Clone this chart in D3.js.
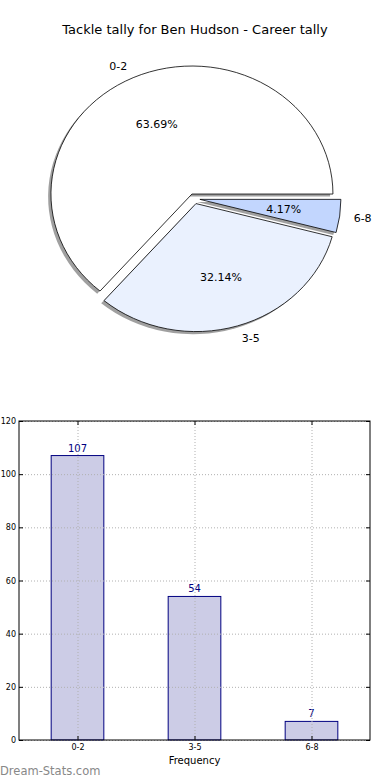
<!DOCTYPE html>
<html>
<head>
<meta charset="utf-8">
<script src="https://cdn.jsdelivr.net/npm/d3@7"></script>
<style>
  body { margin: 0; background: #fff; }
  svg { display: block; font-family: "DejaVu Sans", sans-serif; }
</style>
</head>
<body>
<script>
// chart data
var categories = ["0-2", "3-5", "6-8"];
var counts = [107, 54, 7];
var sliceColors = ["#ffffff", "#eaf1fe", "#c2d6fe"];
var yTicks = [0, 20, 40, 60, 80, 100, 120];
var title = "Tackle tally for Ben Hudson - Career tally";

var svg = d3.select("body").append("svg")
    .attr("width", 390)
    .attr("height", 780);

// title
svg.append("text")
    .attr("x", 195)
    .attr("y", 34)
    .attr("text-anchor", "middle")
    .style("font-size", "13px")
    .text(title);

// ---- pie (matplotlib style, elliptical, exploded, with shadow) ----
var cx = 194.3, cy = 198.7, rx = 141, ry = 128, explode = 0.04;
var total = d3.sum(counts);

var pie = d3.pie()
    .sort(null)
    .startAngle(Math.PI / 2)
    .endAngle(Math.PI / 2 - 2 * Math.PI);

var arc = d3.arc().innerRadius(0).outerRadius(1);

var slices = pie(counts).map(function(d, i) {
  var mid = (d.startAngle + d.endAngle) / 2;
  d.ox = Math.sin(mid) * explode;
  d.oy = -Math.cos(mid) * explode;
  d.mid = mid;
  d.i = i;
  return d;
});

var pieG = svg.append("g")
    .attr("transform", "translate(" + cx + "," + cy + ") scale(" + rx + "," + ry + ")");

// shadows
pieG.selectAll("path.shadow")
    .data(slices)
  .enter().append("path")
    .attr("class", "shadow")
    .attr("transform", function(d) { return "translate(" + (d.ox - 0.02) + "," + (d.oy + 0.02) + ")"; })
    .attr("d", arc)
    .attr("fill", "#808080")
    .attr("fill-opacity", 0.75);

// wedges
pieG.selectAll("path.wedge")
    .data(slices)
  .enter().append("path")
    .attr("class", "wedge")
    .attr("transform", function(d) { return "translate(" + d.ox + "," + d.oy + ")"; })
    .attr("d", arc)
    .attr("fill", function(d) { return sliceColors[d.i]; })
    .attr("stroke", "#000")
    .attr("stroke-width", 0.8)
    .attr("vector-effect", "non-scaling-stroke");

// category labels at 1.1 r
svg.selectAll("text.plabel")
    .data(slices)
  .enter().append("text")
    .attr("class", "plabel")
    .attr("x", function(d) { return cx + (d.ox + 1.1 * Math.sin(d.mid)) * rx; })
    .attr("y", function(d) { return cy + (d.oy - 1.1 * Math.cos(d.mid)) * ry; })
    .attr("dy", "0.35em")
    .attr("text-anchor", function(d) { return Math.sin(d.mid) > 0 ? "start" : "end"; })
    .style("font-size", "11px")
    .text(function(d) { return categories[d.i]; });

// percentage labels at 0.6 r
svg.selectAll("text.pct")
    .data(slices)
  .enter().append("text")
    .attr("class", "pct")
    .attr("x", function(d) { return cx + (d.ox + 0.6 * Math.sin(d.mid)) * rx; })
    .attr("y", function(d) { return cy + (d.oy - 0.6 * Math.cos(d.mid)) * ry; })
    .attr("dy", "0.35em")
    .attr("text-anchor", "middle")
    .style("font-size", "11px")
    .text(function(d) { return (d.value / total * 100).toFixed(2) + "%"; });

// ---- bar chart ----
var margin = {top: 421, left: 19, right: 20, bottom: 40};
var width = 390 - margin.left - margin.right,
    height = 780 - margin.top - margin.bottom;

var x = d3.scalePoint().domain(categories).range([0, width]).padding(0.5);
var y = d3.scaleLinear().domain([0, 120]).range([height, 0]);
var barW = x.step() * 0.45;

var g = svg.append("g")
    .attr("transform", "translate(" + margin.left + "," + margin.top + ")");

// bars
g.selectAll("rect.bar")
    .data(counts)
  .enter().append("rect")
    .attr("class", "bar")
    .attr("x", function(d, i) { return x(categories[i]) - barW / 2; })
    .attr("y", function(d) { return y(d); })
    .attr("width", barW)
    .attr("height", function(d) { return height - y(d); })
    .attr("fill", "#cccce6")
    .attr("stroke", "#000080")
    .attr("stroke-width", 1);

// value labels
g.selectAll("text.val")
    .data(counts)
  .enter().append("text")
    .attr("class", "val")
    .attr("x", function(d, i) { return x(categories[i]); })
    .attr("y", function(d) { return y(d) - 4; })
    .attr("text-anchor", "middle")
    .attr("fill", "#000080")
    .style("font-size", "10px")
    .text(function(d) { return d; });

// grid (drawn over bars)
g.selectAll("line.hgrid")
    .data(yTicks)
  .enter().append("line")
    .attr("class", "hgrid")
    .attr("x1", 0).attr("x2", width)
    .attr("y1", function(d) { return y(d) + 0.5; })
    .attr("y2", function(d) { return y(d) + 0.5; })
    .attr("stroke", "#b0b0b0")
    .attr("stroke-dasharray", "1,2");

g.selectAll("line.vgrid")
    .data(categories)
  .enter().append("line")
    .attr("class", "vgrid")
    .attr("x1", function(d) { return x(d) + 0.5; })
    .attr("x2", function(d) { return x(d) + 0.5; })
    .attr("y1", 0).attr("y2", height)
    .attr("stroke", "#b0b0b0")
    .attr("stroke-dasharray", "1,2");

// axes with inside ticks
g.append("g")
    .call(d3.axisLeft(y).tickValues(yTicks).tickSize(-4).tickPadding(3));
g.append("g")
    .attr("transform", "translate(" + width + ",0)")
    .call(d3.axisRight(y).tickValues(yTicks).tickSize(-4).tickFormat(""));
g.append("g")
    .attr("transform", "translate(0," + height + ")")
    .call(d3.axisBottom(x).tickSize(-4).tickPadding(4));
g.append("g")
    .call(d3.axisTop(x).tickSize(-4).tickFormat(""));

g.selectAll(".domain").remove();
g.selectAll(".tick text").style("font-size", "8px").style("font-family", "DejaVu Sans, sans-serif");

// frame
g.append("rect")
    .attr("width", width)
    .attr("height", height)
    .attr("fill", "none")
    .attr("stroke", "#000")
    .attr("stroke-width", 1);

// x label
g.append("text")
    .attr("x", width / 2)
    .attr("y", height + 24)
    .attr("text-anchor", "middle")
    .style("font-size", "10px")
    .text("Frequency");

// watermark
svg.append("text")
    .attr("x", 0)
    .attr("y", 775)
    .attr("fill", "#888")
    .style("font-size", "11.5px")
    .text("Dream-Stats.com");
</script>
</body>
</html>
